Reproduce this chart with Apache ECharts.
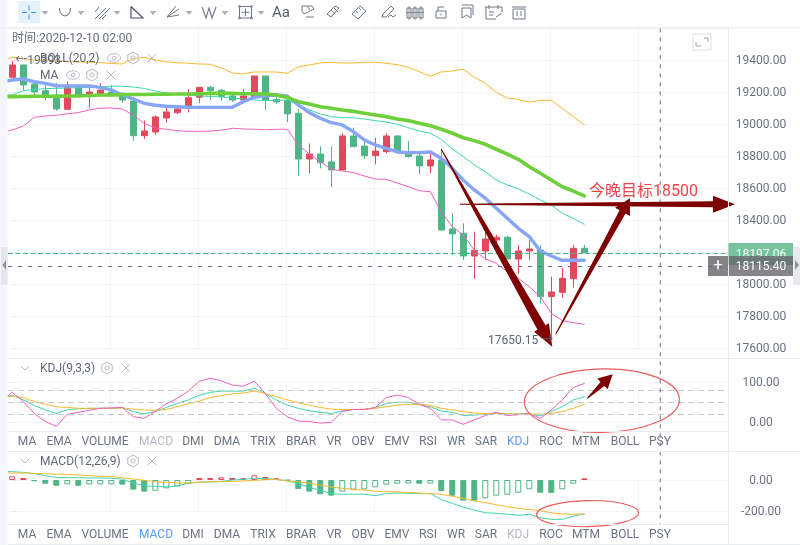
<!DOCTYPE html>
<html><head><meta charset="utf-8"><style>html,body{margin:0;padding:0;background:#fff}#c{width:800px;height:545px}</style>
<script src="https://cdn.jsdelivr.net/npm/echarts@6/dist/echarts.min.js"></script></head><body><div id="c"></div>
<script>
// [open, close, low, high]
const candles=[[19294,19371,19294,19396],[19371,19246,19210,19371],[19252,19202,19183,19258],[19210,19183,19152,19258],[19183,19096,19085,19258],[19094,19230,19090,19266],[19227,19183,19183,19246],[19183,19202,19102,19246],[19189,19214,19171,19258],[19202,19183,19171,19246],[19183,19152,19135,19202],[19146,18929,18898,19171],[18929,18958,18908,19023],[18952,19046,18933,19055],[19039,19077,19010,19110],[19073,19096,19064,19102],[19116,19166,19075,19221],[19169,19231,19135,19233],[19231,19210,19152,19240],[19213,19173,19148,19221],[19177,19152,19138,19196],[19152,19177,19141,19221],[19173,19302,19171,19302],[19302,19152,19090,19302],[19156,19140,19127,19196],[19148,19065,19013,19158],[19069,18783,18679,19096],[18783,18814,18694,18881],[18814,18760,18725,18864],[18765,18715,18608,18860],[18715,18927,18715,18944],[18927,18860,18860,18979],[18864,18804,18783,18891],[18804,18833,18750,18916],[18829,18927,18819,18944],[18927,18829,18827,18933],[18819,18798,18791,18896],[18802,18740,18688,18819],[18740,18777,18694,18829],[18777,18339,18339,18844],[18346,18315,18183,18444],[18319,18177,18152,18381],[18177,18213,18033,18329],[18208,18283,18152,18329],[18277,18294,18215,18310],[18294,18158,18158,18304],[18158,18208,18065,18246],[18208,18221,18152,18277],[18215,17923,17881,18246],[17923,17952,17650.15,18048],[17950,18038,17916,18104],[18035,18225,17979,18246],[18225,18197.06,18197.06,18246]];
const bollUpper=[19408,19419,19411,19402,19399,19396,19393,19390,19388,19386,19380,19377,19411,19418,19402,19390,19385,19381,19377,19375,19352,19321,19315,19327,19327,19327,19319,19358,19371,19383,19388,19383,19383,19388,19388,19381,19373,19356,19329,19300,19327,19333,19344,19294,19256,19200,19164,19156,19138,19150,19150,19100,19048,18996];
const bollMid=[19183,19183,19210,19218,19223,19225,19227,19229,19231,19233,19238,19238,19233,19224,19208,19196,19189,19183,19177,19174,19171,19164,19158,19152,19149,19148,19152,19121,19090,19065,19048,19041,19041,19033,19023,19014,19000,18979,18958,18944,18906,18846,18798,18746,18704,18652,18621,18596,18564,18527,18496,18444,18413,18375];
const bollLower=[18958,18964,18989,19044,19052,19056,19066,19073,19090,19100,19102,19096,19058,19006,18977,18969,18960,18956,18956,18958,18963,18975,18971,18969,18966,18969,18969,18871,18814,18766,18719,18708,18698,18677,18658,18656,18633,18610,18585,18579,18454,18360,18308,18214,18160,18131,18079,18038,17985,17923,17819,17773,17760,17750];
const maFast=[19271,19277,19283,19266,19256,19241,19240,19240,19240,19231,19215,19183,19158,19131,19119,19113,19110,19106,19106,19106,19106,19106,19141,19169,19179,19183,19177,19121,19073,19038,19010,18996,18954,18902,18871,18850,18827,18823,18823,18827,18788,18725,18652,18590,18538,18475,18413,18350,18298,18208,18177,18150,18150,18150];
const maSlow=[19173,19173,19174,19175,19175,19175,19177,19177,19180,19183,19183,19185,19186,19186,19188,19188,19189,19189,19191,19193,19193,19193,19191,19191,19189,19183,19168,19141,19127,19110,19100,19089,19081,19069,19058,19048,19033,19023,19006,18991,18969,18944,18916,18898,18875,18844,18813,18781,18735,18694,18652,18610,18583,18552];
const kdjK=[64,68,56,42,31,22,31,34,35,35,35,37,27,21,27,37,47,56,68,75,78,78,78,85,72,56,43,35,29,25,22,28,32,32,37,47,50,50,45,39,28,25,17,18,20,23,20,21,21,16,27,39,56,64];
const kdjD=[64,65,62,52,45,39,37,35,35,35,35,36,33,31,30,32,39,46,53,62,67,71,73,78,72,64,56,49,43,37,33,32,32,33,35,39,43,45,45,42,35,31,27,23,22,22,21,21,21,20,22,27,35,45];
const kdjJ=[66,75,52,22,2,-10,20,25,30,35,36,37,14,10,27,46,60,78,103,110,104,93,90,103,72,35,14,3,2,-2,0,27,32,32,37,62,68,62,45,35,6,6,-5,6,17,25,17,19,22,10,31,56,87,97];
const macdHist=[24,13,-8,-24,-37,-28,-37,-28,-28,-28,-30,-62,-75,-69,-54,-41,-26,13,13,17,13,12,30,19,11,-3,-58,-75,-92,-101,-75,-62,-60,-47,-30,-24,-23,-24,-23,-71,-101,-133,-134,-118,-101,-95,-82,-60,-82,-83,-60,-24,11];
const macdDif=[54,54,49,41,28,17,15,15,13,13,11,6,-21,-37,-41,-45,-39,-21,-13,-13,-9,0,4,11,9,4,-6,-21,-49,-65,-88,-92,-92,-92,-101,-88,-84,-86,-88,-88,-125,-151,-174,-194,-211,-215,-221,-228,-221,-243,-254,-254,-234,-217];
const macdDea=[45,45,45,43,41,37,37,32,28,24,22,15,6,-2,-11,-15,-19,-19,-15,-11,-11,-9,-6,-2,2,4,-6,-11,-21,-32,-45,-54,-60,-65,-73,-73,-77,-80,-84,-88,-92,-105,-118,-135,-146,-159,-172,-183,-191,-198,-211,-219,-221,-219];
const priceTicks={min:17600,max:19600,interval:200};
const lastPrice=18197.06, crossPrice=18115.40, lowPrice=17650.15, shownHigh='19393';
const target='今晚目标18500';
const tabs=['MA','EMA','VOLUME','MACD','DMI','DMA','TRIX','BRAR','VR','OBV','EMV','RSI','WR','SAR','KDJ','ROC','MTM','BOLL','PSY'];
const priceArrows=[[39,18844,49.09,17610],[49.4,17688,56.15,18538],[40.7,18500,65.7,18500]];
const kdjArrows=[[52.27,60,54.58,120]];
const kdjEllipse=[[53.6,54,7.05,79.5]];
const macdEllipse=[[52.3,-217,4.64,84]];

const RED='#e2495c',GREEN='#4fb587',ORANGE='#f9b72d',TEAL='#3fd6b0',PINK='#ee5fc0',BLUE='#86a5f5',LIME='#6dd03b',DARK='#7e0000',OVAL='#ec5a5a',GRID='#f2f4f8',SEP='#e8ebf0',TXT='#6b7380',ICON='#6f7885',SOFT='#b6bbc4';
const FONT='Roboto,"Noto Sans CJK SC",sans-serif';
const XMIN=-0.39,XMAX=65.02;
const vLines=[8.95,16.95,24.95,32.95,40.95,48.95,56.95];
const pts=a=>a.map((v,k)=>[k===0?XMIN:k-1,v]);

function xAxis(g){return {type:'value',gridIndex:g,min:XMIN,max:XMAX,axisLine:{show:false},axisLabel:{show:false},
  axisTick:{show:false,customValues:vLines},splitLine:{show:true,customValues:vLines,lineStyle:{color:GRID,width:1}}};}
function yAxis(g,min,max,interval,extra){return Object.assign({type:'value',gridIndex:g,position:'right',min,max,interval,scale:true,
  axisLine:{show:false},axisTick:{show:true,length:5,lineStyle:{color:SEP}},
  axisLabel:{align:'center',margin:33.5,color:TXT,fontSize:12,fontFamily:FONT,formatter:v=>'{a|'+v.toFixed(2)+'}',
    rich:{a:{color:TXT,fontSize:12,fontFamily:FONT,padding:[2,0,0,0]}}},
  splitLine:{show:true,lineStyle:{color:GRID,width:1}}},extra||{});}
function line(name,data,color,width,xi,clip,z){return {name,type:'line',xAxisIndex:xi,yAxisIndex:xi,data:pts(data),showSymbol:false,symbol:'none',clip,z:z||3,silent:true,animation:false,
  lineStyle:{color,width,cap:'round',join:'round'}};}
function arrowRender(params,api){
  const a=api.coord([api.value(0),api.value(1)]),t=api.coord([api.value(2),api.value(3)]);
  const dx=t[0]-a[0],dy=t[1]-a[1],len=Math.hypot(dx,dy),ux=dx/len,uy=dy/len,nx=-uy,ny=ux;
  const hl=Math.max(14,Math.min(22,len*0.1)),hh=len<60?7.5:8.5,sh=len<60?2.8:len>250?3:len>200?4.6:3.4;
  const bx=t[0]-ux*hl,by=t[1]-uy*hl,p=(x,y,k)=>[x+nx*k,y+ny*k];
  return {type:'polygon',shape:{points:[p(a[0],a[1],.5),p(bx,by,sh),p(bx,by,hh),t,p(bx,by,-hh),p(bx,by,-sh),p(a[0],a[1],-.5)]},style:{fill:DARK,stroke:null}};
}
function ellipseRender(params,api){
  const c=api.coord([api.value(0),api.value(1)]),s=api.size([api.value(2),api.value(3)]);
  return {type:'ellipse',shape:{cx:0,cy:0,rx:s[0],ry:s[1]},x:c[0],y:c[1],rotation:0.02,style:{fill:'none',stroke:OVAL,lineWidth:1.1}};
}
function custom(data,render,xi){return {type:'custom',xAxisIndex:xi,yAxisIndex:xi,data,renderItem:render,clip:false,silent:true,z:20,animation:false,encode:{x:0,y:1}};}

const hist=macdHist.map((v,i)=>{const c=v>=0?RED:GREEN,hollow=i===0||v>=macdHist[i-1];
  return {value:[i,v],itemStyle:{color:hollow?'#fff':c,borderColor:c,borderWidth:1}};});

// page furniture: plain chart chrome, placed by pixel
const g=[];const Z=50;
const rect=(x,y,w,h,fill,z)=>g.push({type:'rect',shape:{x,y,width:w,height:h},style:{fill},z:z||Z,silent:true});
const lineEl=(x1,y1,x2,y2,stroke,w)=>g.push({type:'line',shape:{x1,y1,x2,y2},style:{stroke,lineWidth:w||1},z:Z,silent:true});
const poly=(points,stroke,w,fill)=>g.push({type:fill?'polygon':'polyline',shape:{points},style:fill?{fill}:{stroke,lineWidth:w||1,fill:'none'},z:Z,silent:true});
const text=(t,x,y,fill,opts)=>g.push({type:'text',x,y:y+0.8,silent:true,z:(opts&&opts.z)||Z+1,style:Object.assign({text:t,fill,fontSize:12,fontFamily:FONT,verticalAlign:'middle',align:'left'},opts||{})});
const circ=(cx,cy,r,stroke)=>g.push({type:'circle',shape:{cx,cy,r},style:{stroke,fill:'none',lineWidth:1},z:Z,silent:true});
const hex=(cx,cy,r,s)=>{const p=[];for(let k=0;k<6;k++){const a=Math.PI/6+k*Math.PI/3;p.push([cx+r*Math.cos(a),cy+r*Math.sin(a)]);}p.push(p[0]);poly(p,s,1);circ(cx,cy,r*.35,s);};
const eye=(cx,cy,s)=>{g.push({type:'ellipse',shape:{cx,cy,rx:6.5,ry:4.3},style:{stroke:s,fill:'none',lineWidth:1},z:Z,silent:true});circ(cx,cy,1.8,s);};
const cross=(cx,cy,s)=>{lineEl(cx-4.5,cy-4.5,cx+4.5,cy+4.5,s);lineEl(cx-4.5,cy+4.5,cx+4.5,cy-4.5,s);};
const chev=(cx,cy,s)=>poly([[cx-4,cy-2],[cx,cy+2],[cx+4,cy-2]],s,1);
const tools=(x1,x2,x3,y)=>{eye(x1,y,SOFT);hex(x2,y,6,SOFT);cross(x3,y,SOFT);};

rect(0,0,800,27.5,'#fff',1);
rect(0,0,7.5,545,'#f4f6fb');
rect(1,247,6.5,38,'#e4e7ec');
poly([[6,260],[2.5,265],[6,270]],null,1,'#8d939c');
// separators
lineEl(0,27.8,800,27.8,SEP);
lineEl(8,358.5,800,358.5,SEP);lineEl(8,431.5,728,431.5,SEP);lineEl(8,451.5,800,451.5,SEP);lineEl(8,524.5,728,524.5,SEP);lineEl(8,544.5,800,544.5,SEP);
lineEl(728.5,28,728.5,545,SEP);
// toolbar
rect(18,1,22,22,'#e6f2fb');
lineEl(22,12.5,27,12.5,'#3c8ff0');lineEl(31,12.5,36,12.5,'#3c8ff0');lineEl(29,5.5,29,10.5,'#3c8ff0');lineEl(29,14.5,29,19.5,'#3c8ff0');
[45,81,117,153,189,225,261].forEach(x=>poly([[x-3.5,11],[x+3.5,11],[x,15]],null,1,'#a9afb8'));
poly([[59.5,8],[60,12],[62,15],[65,16],[68,15],[70,12],[70.5,8]],ICON,1);
[[95,19,106,8],[99,19,110,8],[95,12,99,7],[102,19,106,15]].forEach(s=>lineEl(s[0],s[1],s[2],s[3],ICON));
poly([[131,6.5],[143,18],[131,18],[131,6.5]],'#4c5561',1.2);
[[167,17,179,9],[167,17,176,6],[167,17,179,15]].forEach(s=>lineEl(s[0],s[1],s[2],s[3],ICON));
poly([[202,7],[206,18],[209,8],[212,18],[216,7]],ICON,1.1);
poly([[239.5,6.5],[251.5,6.5],[251.5,18],[239.5,18],[239.5,6.5]],ICON,1);lineEl(241.5,12.3,249.5,12.3,ICON);lineEl(245.5,8.5,245.5,16,ICON);
circ(239.5,6.5,1,ICON);circ(251.5,6.5,1,ICON);circ(239.5,18,1,ICON);circ(251.5,18,1,ICON);
text('Aa',281,12.2,'#555e6b',{fontSize:15,align:'center'});
poly([[302,6],[312,6],[314,9],[304,14],[302,11],[302,6]],ICON,1);lineEl(306,17,314,17,ICON);lineEl(307,6,310,10,ICON);
poly([[327,14],[335,6],[339,8],[331,17],[327,14]],ICON,1);lineEl(331,10,335,14,ICON);lineEl(334,8,338,12,ICON);
poly([[352,14],[360,6],[366,11],[358,19],[352,14]],ICON,1);lineEl(356,11,358,13,ICON);lineEl(359,8,361,10,ICON);
poly([[382,17],[383,14],[391,6],[394,9],[386,17],[382,17]],ICON,1);poly([[388,17],[391,15],[393,17],[396,15]],ICON,1);
lineEl(406,12.5,424,12.5,ICON,.8);
[[409,7,12],[415,7,12],[421,7,12]].forEach(c=>{poly([[c[0]-2,c[1]+1],[c[0]+2,c[1]+1],[c[0]+2,c[1]+c[2]-1],[c[0]-2,c[1]+c[2]-1],[c[0]-2,c[1]+1]],ICON,1);lineEl(c[0],c[1]-1,c[0],c[1]+c[2]+1,ICON,.8);});
poly([[436,11],[446,11],[446,18],[436,18],[436,11]],ICON,1);poly([[438,11],[438,7],[444,7]],ICON,1);lineEl(441,13.5,441,15.5,ICON);
poly([[462,8],[471,8],[471,18],[466.5,15],[462,18],[462,8]],ICON,1);poly([[462,5],[473,5],[473,15]],ICON,1);
poly([[485,7],[502,7]],ICON,1);poly([[486,7],[486,19],[496,19]],ICON,1);lineEl(502,7,502,12,ICON);lineEl(489,5,489,9,ICON);lineEl(498,5,498,9,ICON);lineEl(496,17,502,13,ICON);lineEl(489,12,494,12,ICON);lineEl(489,15,493,15,ICON);
poly([[513,9],[513,19],[525,19],[525,9],[513,9]],ICON,1);lineEl(512,7,526,7,ICON);lineEl(517,11,517,16,ICON);lineEl(521,11,521,16,ICON);
// fullscreen box
poly([[693,34],[711,34],[711,50],[693,50],[693,34]],'#dcdfe4',1);
poly([[696,42],[696,46],[701,46]],'#9aa0a9',1);poly([[704,38],[708,38],[708,42]],'#9aa0a9',1);
// legends
text('时间:2020-12-10 02:00',12,38.5,'#666d78');
chev(25,58,SOFT);
text('BOLL(20,2)',40,58,'#5f6773');tools(114,133,152,58);
text('MA',40,75,'#5f6773');tools(73,92,111,75);
chev(25,368,SOFT);text('KDJ(9,3,3)',40,368,'#5f6773');hex(107,368,6,SOFT);cross(126,368,SOFT);
chev(25,461,SOFT);text('MACD(12,26,9)',40,461,'#5f6773');hex(133,461,6,SOFT);cross(152,461,SOFT);
// indicator tabs
const tabX=[27,59,105,156,193,227,263,301,334,363,397,428,456,486,518,551,586,625,660];
tabs.forEach((t,i)=>{
  const c1=t==='MACD'?'#b4b9c1':t==='KDJ'?'#5b9bf3':TXT, c2=t==='MACD'?'#5b9bf3':t==='KDJ'?'#b4b9c1':TXT;
  text(t,tabX[i],441.5,c1,{align:'center'});text(t,tabX[i],534.5,c2,{align:'center'});
});
// price tags
rect(728.5,243,64.5,22,'#76c39e');
text(lastPrice.toFixed(2),761,254,'#fff',{align:'center',z:Z+1});
rect(708,256,20,20,'rgba(100,100,105,.8)',Z+2);
rect(729,256,64,20,'rgba(100,100,105,.78)',Z+2);
text('+',718,265,'#fff',{align:'center',fontSize:17,z:Z+3});
text(crossPrice.toFixed(2),761,266,'#fff',{align:'center',z:Z+3});
rect(793,247,7,38,'#e7e9ed');
poly([[795,260],[799,265],[795,270]],null,1,'#8d939c');

const option={animation:false,backgroundColor:'#fff',graphic:{elements:g},
 grid:[{left:8,right:72.5,top:28.3,height:320},{left:8,right:72.5,top:382.3,height:40},{left:8,right:72.5,top:480,height:31}],
 xAxis:[xAxis(0),xAxis(1),xAxis(2)],
 yAxis:[yAxis(0,priceTicks.min,priceTicks.max,priceTicks.interval,{}),yAxis(1,0,100,100),yAxis(2,-200,0,200)],
 series:[
  {type:'candlestick',xAxisIndex:0,yAxisIndex:0,barWidth:7,silent:true,z:2,data:candles.map((c,i)=>[i,c[0],c[1],c[2],c[3]]),
   itemStyle:{color:RED,color0:GREEN,borderColor:RED,borderColor0:GREEN,borderWidth:1},
   markLine:{silent:true,symbol:'none',label:{show:false},animation:false,data:[
     {yAxis:lastPrice,lineStyle:{color:GREEN,type:[5,2.5],width:1}},
     {yAxis:crossPrice,lineStyle:{color:'#5d7189',type:[4,6],width:1}}]}},
  line('BOLL UP',bollUpper,ORANGE,1,0,true),
  line('BOLL MID',bollMid,TEAL,1,0,true),
  line('BOLL LOW',bollLower,PINK,1,0,true),
  line('MA fast',maFast,BLUE,3.4,0,true,4),
  line('MA slow',maSlow,LIME,3.6,0,true,5),
  custom(priceArrows,arrowRender,0),
  {type:'custom',xAxisIndex:0,yAxisIndex:0,data:[[58.9,19600]],clip:false,silent:true,z:6,animation:false,encode:{x:0,y:1},renderItem(p,api){
     const a=api.coord([api.value(0),api.value(1)]);
     return {type:'line',shape:{x1:a[0],y1:a[1],x2:a[0],y2:a[1]+496},style:{stroke:'#5d7189',lineWidth:1,lineDash:[4,5]}};}},
  {type:'custom',xAxisIndex:0,yAxisIndex:0,data:[[52.43,18580,target]],clip:false,silent:true,z:21,animation:false,encode:{x:0,y:1},renderItem(p,api){
     const a=api.coord([api.value(0),api.value(1)]);
     return {type:'text',x:a[0],y:a[1],style:{text:target,fill:'#f0434a',fontSize:16,fontFamily:FONT,verticalAlign:'middle',align:'left'}};}},
  {type:'custom',xAxisIndex:0,yAxisIndex:0,data:[[49,lowPrice]],clip:false,silent:true,z:22,animation:false,encode:{x:0,y:1},renderItem(p,api){
     const a=api.coord([api.value(0),api.value(1)]);
     return {type:'text',x:a[0]+2,y:a[1]+1,style:{text:lowPrice.toFixed(2)+' →',fill:'#5f6773',fontSize:12,fontFamily:FONT,verticalAlign:'middle',align:'right'}};}},
  {type:'custom',xAxisIndex:0,yAxisIndex:0,data:[[0,19396]],clip:false,silent:true,z:7,animation:false,encode:{x:0,y:1},renderItem(p,api){
     const a=api.coord([api.value(0),api.value(1)]);
     return {type:'text',x:a[0]+3,y:a[1],style:{text:'←'+shownHigh,fill:'#5f6773',fontSize:12,fontFamily:FONT,verticalAlign:'middle',align:'left'}};}},
  {type:'line',xAxisIndex:1,yAxisIndex:1,data:[],markLine:{silent:true,symbol:'none',label:{show:false},animation:false,lineStyle:{color:'#c8c8c8',type:[6,4],width:1},data:[{yAxis:80},{yAxis:50},{yAxis:20}]}},
  line('K',kdjK,TEAL,1,1,false),
  line('D',kdjD,ORANGE,1,1,false),
  line('J',kdjJ,PINK,1,1,false),
  custom(kdjEllipse,ellipseRender,1),
  custom(kdjArrows,arrowRender,1),
  {type:'bar',xAxisIndex:2,yAxisIndex:2,barWidth:6,clip:false,silent:true,z:2,data:hist},
  line('DIF',macdDif,TEAL,1,2,false),
  line('DEA',macdDea,ORANGE,1,2,false),
  custom(macdEllipse,ellipseRender,2)
 ]};
option.yAxis[0].axisLabel.showMaxLabel=false;
const chart=echarts.init(document.getElementById('c'),null,{renderer:'canvas'});
chart.setOption(option);
</script></body></html>
